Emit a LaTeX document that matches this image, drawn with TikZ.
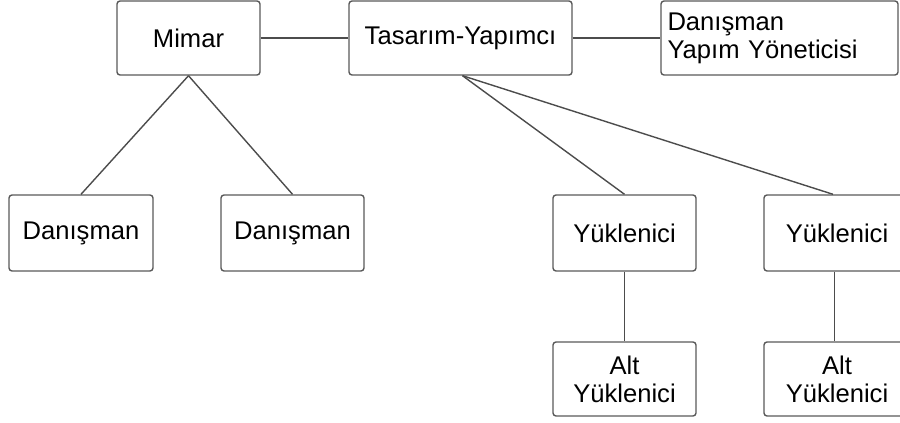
\documentclass[tikz,border=0pt]{standalone}
\usepackage{fontspec}
\setmainfont{Liberation Sans}
\begin{document}
\begin{tikzpicture}[x=0.5pt,y=-0.5pt,
  orgbox/.style={draw=black!65, line width=0.7pt, rounded corners=1.5pt,
    inner sep=0pt, align=center, font=\fontsize{12.8}{14}\selectfont},
  link/.style={draw=black!70, line width=0.7pt}]
\useasboundingbox (0,0) rectangle (900,423);
% top row
\node[orgbox, minimum width=71.5pt, minimum height=37pt] (mimar) at (188.5,38) {Mimar};
\node[orgbox, minimum width=111.5pt, minimum height=37pt] (ty) at (460.5,38) {Tasarım-Yapımcı};
\node[orgbox, minimum width=118.5pt, minimum height=37pt, text width=112pt, align=left] (dyy) at (779.5,38) {Danışman\\Yapım Yöneticisi};
% second row
\node[orgbox, minimum width=72pt, minimum height=38pt] (d1) at (81,233) {Danışman};
\node[orgbox, minimum width=71.5pt, minimum height=38pt] (d2) at (292.5,233) {Danışman};
\node[orgbox, minimum width=71.5pt, minimum height=38pt] (y1) at (624.5,233) {Yüklenici};
\node[orgbox, minimum width=73pt, minimum height=38pt] (y2) at (837,233) {Yüklenici};
% third row
\node[orgbox, minimum width=71.5pt, minimum height=37pt] (a1) at (624.5,379) {Alt\\Yüklenici};
\node[orgbox, minimum width=73pt, minimum height=37pt] (a2) at (837,379) {Alt\\Yüklenici};
% connectors
\draw[link] (mimar.east) -- (ty.west);
\draw[link] (ty.east) -- (dyy.west);
\draw[link] (mimar.south) -- (d1.north);
\draw[link] (mimar.south) -- (d2.north);
\draw[link] ([xshift=1pt]ty.south) -- (y1.north);
\draw[link] ([xshift=1pt]ty.south) -- ([xshift=-2pt]y2.north);
\draw[link] (y1.south) -- (a1.north);
\draw[link] ([xshift=-1.2pt]y2.south) -- ([xshift=-1.2pt]a2.north);
\end{tikzpicture}
\end{document}
